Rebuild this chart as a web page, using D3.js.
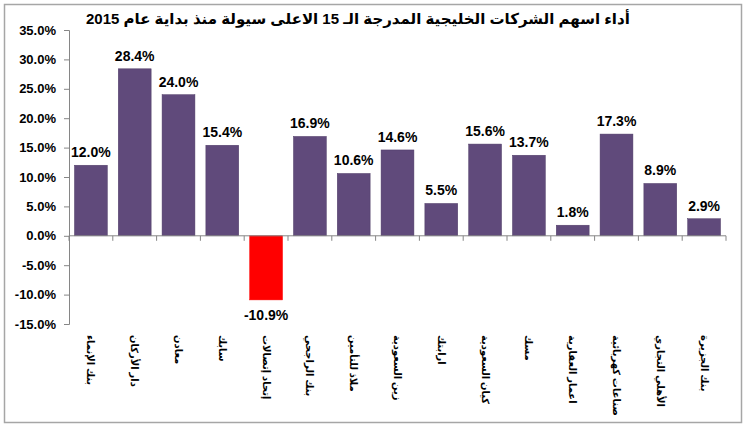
<!DOCTYPE html>
<html>
<head>
<meta charset="utf-8">
<style>
  body { margin: 0; background: #fff; }
  svg { display: block; font-family: "Liberation Sans", Arial, "DejaVu Sans", sans-serif; }
  .axis path, .axis line { stroke: #868686; }
  .axis text { font-family: "Liberation Sans", Arial, sans-serif; font-size: 13px; font-weight: bold; fill: #000; }
</style>
</head>
<body>
<script src="https://cdn.jsdelivr.net/npm/d3@7"></script>
<script>
const W = 750, H = 430;

const title = "أداء اسهم الشركات الخليجية المدرجة الـ 15 الاعلى سيولة منذ بداية عام 2015";
const companies = ["بنك الإنماء", "دار الأركان", "معادن", "سابك", "إتحاد إتصالات", "بنك الراجحي",
  "ملاذ للتأمين", "زين السعودية", "ارابتك", "كيان السعودية", "مسك", "اعمار العقارية",
  "صناعات كهربائية", "الأهلي التجاري", "بنك الجزيرة"];
const change = [12.0, 28.4, 24.0, 15.4, -10.9, 16.9, 10.6, 14.6, 5.5, 15.6, 13.7, 1.8, 17.3, 8.9, 2.9];
const yTicks = [-15, -10, -5, 0, 5, 10, 15, 20, 25, 30, 35];

const svg = d3.select("body").append("svg")
  .attr("width", W)
  .attr("height", H);

// outer frame
svg.append("rect")
  .attr("x", 4.5).attr("y", 4.5)
  .attr("width", 737).attr("height", 418)
  .attr("fill", "#fff")
  .attr("stroke", "#a6a6a6")
  .attr("stroke-width", 1.5);

svg.append("text")
  .attr("x", 86).attr("y", 24)
  .attr("text-anchor", "start")
  .style("font-size", "15px")
  .style("font-weight", "bold")
  .text(title);

const x = d3.scaleBand()
  .domain(companies)
  .range([69, 726])
  .paddingInner(0.25)
  .paddingOuter(0.125);

const y = d3.scaleLinear()
  .domain([-15, 35])
  .range([324, 30]);

// y axis
svg.append("g")
  .attr("class", "axis")
  .attr("transform", "translate(69,0)")
  .call(d3.axisLeft(y).tickValues(yTicks).tickSize(5).tickPadding(8)
    .tickFormat(d => d.toFixed(1) + "%"));

// bars
svg.selectAll(".bar")
  .data(companies)
  .enter()
  .append("rect")
  .attr("class", "bar")
  .attr("x", d => x(d))
  .attr("width", x.bandwidth())
  .attr("y", (d, i) => y(Math.max(0, change[i])))
  .attr("height", (d, i) => Math.abs(y(change[i]) - y(0)))
  .attr("fill", (d, i) => change[i] < 0 ? "#ff0000" : "#604a7b")
  .attr("stroke", (d, i) => change[i] < 0 ? "#ff0000" : "#4e3b66")
  .attr("stroke-width", 0.5);

// x axis line with ticks between categories
const step = x.step();
const xAxis = svg.append("g").attr("class", "axis");
xAxis.append("line")
  .attr("x1", 69).attr("x2", 726)
  .attr("y1", y(0)).attr("y2", y(0));
xAxis.selectAll(".xt")
  .data(d3.range(companies.length + 1))
  .enter()
  .append("line")
  .attr("x1", i => 69 + i * step).attr("x2", i => 69 + i * step)
  .attr("y1", y(0)).attr("y2", y(0) + 5);

// value labels
svg.selectAll(".val")
  .data(companies)
  .enter()
  .append("text")
  .attr("x", d => x(d) + x.bandwidth() / 2)
  .attr("y", (d, i) => change[i] < 0 ? y(change[i]) + 20 : y(change[i]) - 8)
  .attr("text-anchor", "middle")
  .style("font-size", "14px")
  .style("font-weight", "bold")
  .text((d, i) => change[i].toFixed(1) + "%");

// category labels, rotated
svg.selectAll(".cat")
  .data(companies)
  .enter()
  .append("text")
  .attr("transform", d => `translate(${x(d) + x.bandwidth() / 2},335) rotate(90)`)
  .attr("dy", "0.35em")
  .attr("text-anchor", "start")
  .style("font-size", "10px")
  .style("font-weight", "bold")
  .text(d => d);
</script>
</body>
</html>
